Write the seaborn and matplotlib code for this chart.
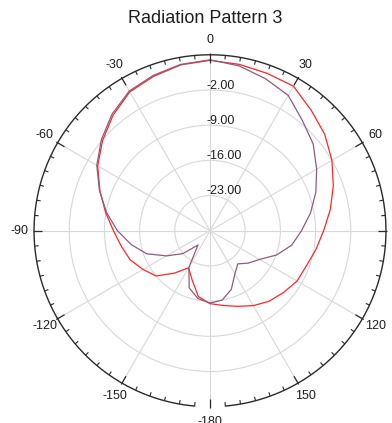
import numpy as np
import pandas as pd
import matplotlib
matplotlib.use("Agg")
import matplotlib.pyplot as plt
import seaborn as sns

# ---- data (angle in degrees, gain in dB) ----
angles_deg = [-180, -170, -160, -150, -140, -130, -120, -110, -100, -90,
              -80, -70, -60, -50, -40, -30, -20, -10, 0, 10,
              20, 30, 40, 50, 60, 70, 80, 90, 100, 110,
              120, 130, 140, 150, 160, 170, 180]
red_db = [-15.5, -16.7, -19.6, -21.5, -19.0, -16.0, -14.6, -13.1, -12.1, -10.8,
          -8.9, -6.7, -4.2, -2.1, 0.0, 1.9, 2.7, 3.5, 3.9, 3.6,
          3.3, 3.2, 1.3, -0.2, -2.0, -3.9, -5.7, -7.4, -8.6, -9.6,
          -10.0, -10.9, -11.7, -12.8, -14.0, -14.9, -15.5]
purple_db = [-15.6, -16.3, -17.9, -21.6, -26.3, -22.9, -20.0, -16.6, -14.1, -11.6,
             -9.1, -6.6, -4.0, -1.8, 0.3, 2.1, 2.9, 3.6, 4.0, 3.3,
             2.2, 1.1, -1.4, -3.2, -5.5, -7.6, -9.7, -11.8, -13.5, -15.9,
             -18.6, -20.0, -21.4, -20.1, -17.6, -16.0, -15.6]
series_names = ["Pattern A", "Pattern B"]
series_colors = ["#ff2626", "#8c5c7e"]

r_ticks = [-23, -16, -9, -2]
r_min, r_max = -30, 5
theta_ticks = [0, 30, 60, 90, 120, 150, 180, 210, 240, 270, 300, 330]
theta_labels = ["0", "30", "60", "90", "120", "150", "-180", "-150", "-120", "-90", "-60", "-30"]
title = "Radiation Pattern 3"

# ---- build tidy table ----
df = pd.concat([
    pd.DataFrame({"theta": np.deg2rad(angles_deg), "db": red_db, "series": series_names[0]}),
    pd.DataFrame({"theta": np.deg2rad(angles_deg), "db": purple_db, "series": series_names[1]}),
], ignore_index=True)

sns.set_style("white")
plt.rcParams["font.family"] = ["Liberation Sans", "DejaVu Sans"]
txt_color = "#1e1e1e"

fig = plt.figure(figsize=(3.92, 4.23), dpi=100)
ax = fig.add_axes([0.0867, 0.0385, 0.898, 0.832], projection="polar")
ax.set_theta_zero_location("N")
ax.set_theta_direction(-1)
ax.set_facecolor("white")

sns.lineplot(data=df, x="theta", y="db", hue="series", palette=series_colors,
             sort=False, estimator=None, units="series", ax=ax, linewidth=0.9, legend=False)

ax.set_rlim(r_min, r_max)
ax.set_rticks(r_ticks)
ax.set_yticklabels([])
ax.set_xlabel("")
ax.set_ylabel("")
ax.set_thetagrids(theta_ticks, theta_labels)
ax.tick_params(axis="x", pad=3.8, labelsize=9, colors=txt_color, length=0)
ax.grid(True, color="#d8d8d8", linewidth=0.8)
ax.spines["polar"].set_visible(False)

# radial value labels just above each circle at 0 deg
for v in r_ticks:
    ax.annotate(f"{v:.2f}", xy=(0, v), xytext=(-2.2, 1.0), textcoords="offset points",
                ha="left", va="baseline", fontsize=9, color=txt_color)

# outer ring with gap at 180 deg and inward ticks
ring_t = np.deg2rad(np.linspace(185, 535, 400))
ax.plot(ring_t, np.full_like(ring_t, r_max), color="#2a2a2a", lw=1.0, clip_on=False, zorder=5)
minor = np.deg2rad([a for a in range(0, 360, 5) if a % 30 != 0])
major = np.deg2rad([a for a in range(0, 360, 30)])
ax.vlines(minor, r_max - 0.8, r_max, colors="#2a2a2a", lw=0.8, clip_on=False, zorder=5)
ax.vlines(major, r_max - 1.6, r_max + 0.3, colors="#2a2a2a", lw=0.9, clip_on=False, zorder=5)

fig.text(205.5 / 392, 1 - 18.5 / 423, title, ha="center", va="center", fontsize=13, color=txt_color)

fig.savefig("out.png", dpi=100)
